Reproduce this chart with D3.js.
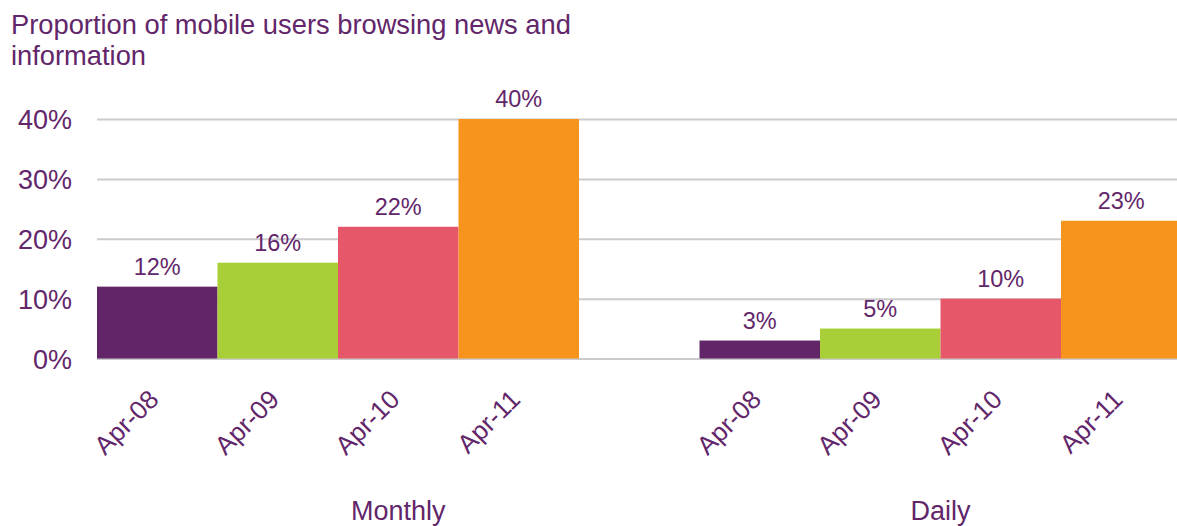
<!DOCTYPE html>
<html>
<head>
<meta charset="utf-8">
<script src="https://cdn.jsdelivr.net/npm/d3@7"></script>
<style>
  html, body { margin: 0; padding: 0; background: #ffffff; }
  svg { display: block; font-family: "Liberation Sans", Arial, Helvetica, sans-serif; }
</style>
</head>
<body>
<svg id="chart" width="1177" height="526"></svg>
<script>
// Share of mobile users browsing news and information, by frequency
const titleLines = ["Proportion of mobile users browsing news and", "information"];
const periods = ["Monthly", "Daily"];
const months = ["Apr-08", "Apr-09", "Apr-10", "Apr-11"];
const monthlyValues = [12, 16, 22, 40];
const dailyValues = [3, 5, 10, 23];
const yTicks = [0, 10, 20, 30, 40];

const seriesByPeriod = { Monthly: monthlyValues, Daily: dailyValues };

const textColor = "#62266a";
const gridColor = "#cbcbcb";
const color = d3.scaleOrdinal()
  .domain(months)
  .range(["#622567", "#a8cf38", "#e65769", "#f7941e"]);

// One slot per bar, plus an empty slot separating the two groups
const slots = [];
periods.forEach((p, i) => {
  if (i > 0) slots.push("gap-" + i);
  months.forEach(m => slots.push(p + "|" + m));
});

const bars = [];
periods.forEach(p => {
  months.forEach((m, j) => bars.push({ period: p, month: m, value: seriesByPeriod[p][j] }));
});

const svg = d3.select("#chart");

const x = d3.scaleBand().domain(slots).range([97, 1181.5]).padding(0);
const y = d3.scaleLinear().domain([0, 40]).range([358.5, 119]);

// Title
svg.append("text")
  .attr("x", 11)
  .attr("y", 34)
  .attr("fill", textColor)
  .style("font-size", "27.3px")
  .selectAll("tspan")
  .data(titleLines)
  .join("tspan")
  .attr("x", 11)
  .attr("dy", (d, i) => i === 0 ? 0 : 31)
  .text(d => d);

// Horizontal gridlines and y-axis labels
const yAxis = d3.axisLeft(y)
  .tickValues(yTicks)
  .tickFormat(d => d + "%")
  .tickSize(-(1177 - 97))
  .tickPadding(25);

const gy = svg.append("g")
  .attr("transform", "translate(97,0)")
  .call(yAxis);
gy.select(".domain").remove();
gy.selectAll(".tick line")
  .attr("stroke", gridColor)
  .attr("stroke-width", 2);
gy.selectAll(".tick text")
  .attr("fill", textColor)
  .attr("dy", "0.36em")
  .style("font-size", "27px")
  .style("font-family", "'Liberation Sans', Arial, sans-serif");

// Bars
svg.append("g")
  .selectAll("rect")
  .data(bars)
  .join("rect")
  .attr("x", d => x(d.period + "|" + d.month))
  .attr("y", d => y(d.value))
  .attr("width", x.bandwidth())
  .attr("height", d => y(0) - y(d.value))
  .attr("fill", d => color(d.month));

// Value labels above each bar
svg.append("g")
  .selectAll("text")
  .data(bars)
  .join("text")
  .attr("x", d => x(d.period + "|" + d.month) + x.bandwidth() / 2)
  .attr("y", d => y(d.value) - 12)
  .attr("text-anchor", "middle")
  .attr("fill", textColor)
  .style("font-size", "23.5px")
  .text(d => d.value + "%");

// Rotated month labels
svg.append("g")
  .selectAll("text")
  .data(bars)
  .join("text")
  .attr("text-anchor", "end")
  .attr("fill", textColor)
  .style("font-size", "26px")
  .attr("transform", d => {
    const cx = x(d.period + "|" + d.month) + x.bandwidth() / 2;
    return `translate(${cx + 3},${401}) rotate(-45)`;
  })
  .text(d => d.month);

// Group labels, centred over each group's span of slots
const groupSpans = periods.map((p, i) => {
  const first = x(p + "|" + months[0]);
  const lastKey = i < periods.length - 1 ? "gap-" + (i + 1) : p + "|" + months[months.length - 1];
  const last = x(lastKey) + x.bandwidth();
  return { period: p, center: (first + last) / 2 };
});

svg.append("g")
  .selectAll("text")
  .data(groupSpans)
  .join("text")
  .attr("x", d => d.center)
  .attr("y", 520)
  .attr("text-anchor", "middle")
  .attr("fill", textColor)
  .style("font-size", "27px")
  .text(d => d.period);
</script>
</body>
</html>
